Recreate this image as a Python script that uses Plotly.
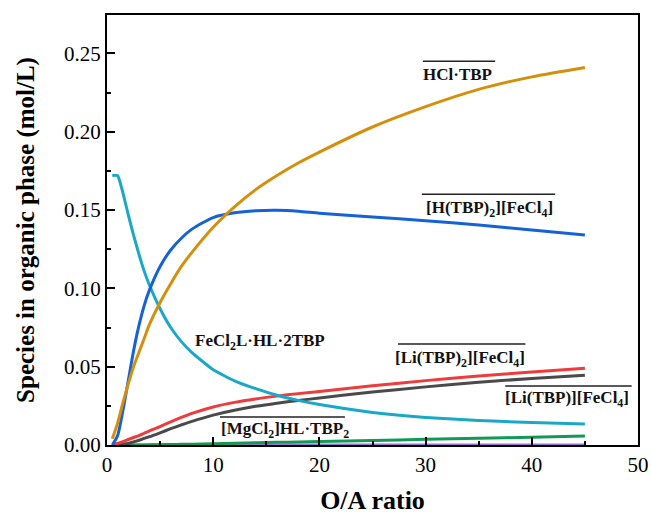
import plotly.graph_objects as go

# O/A ratio grid
oa = [0.5, 1, 1.5, 2, 2.5, 3, 3.5, 4, 5, 6, 7, 8, 10, 12, 14, 16, 18, 20, 25, 30, 35, 40, 45]

hcl_tbp = [0.004, 0.014, 0.027, 0.039, 0.050, 0.059, 0.068, 0.077, 0.091, 0.103, 0.114, 0.123,
           0.139, 0.152, 0.163, 0.172, 0.180, 0.187, 0.203, 0.216, 0.227, 0.235, 0.241]
h_tbp2_fecl4 = [0.0, 0.006, 0.022, 0.041, 0.060, 0.076, 0.089, 0.099, 0.114, 0.1245, 0.132, 0.1378,
                0.1452, 0.1482, 0.1495, 0.1498, 0.1492, 0.1480, 0.1456, 0.1432, 0.1405, 0.1372, 0.134]
fecl2l_hl_2tbp = [0.172, 0.172, 0.161, 0.147, 0.134, 0.122, 0.111, 0.102, 0.087, 0.075, 0.066, 0.059,
                  0.048, 0.041, 0.036, 0.0318, 0.0285, 0.0258, 0.0208, 0.0176, 0.0156, 0.0143, 0.0134]
li_tbp2_fecl4 = [0.0, 0.001, 0.0022, 0.0035, 0.0048, 0.006, 0.0075, 0.009, 0.0118, 0.0148, 0.0176, 0.0202,
                 0.0243, 0.0272, 0.0294, 0.0312, 0.0328, 0.0342, 0.0378, 0.0411, 0.044, 0.0466, 0.049]
li_tbp_fecl4 = [0.0, 0.0002, 0.0005, 0.001, 0.002, 0.003, 0.0042, 0.0053, 0.0078, 0.0104, 0.0128, 0.0151,
                0.0191, 0.0222, 0.0247, 0.0267, 0.0284, 0.030, 0.0338, 0.0371, 0.040, 0.0425, 0.0446]
mgcl2_hl_tbp2 = [0.0, 0.0, 0.0, 0.0, 0.0, 0.0, 0.0, 0.0001, 0.0002, 0.0003, 0.0004, 0.0005,
                 0.0008, 0.0011, 0.0014, 0.0017, 0.0019, 0.0022, 0.0029, 0.0036, 0.0043, 0.005, 0.0057]
other_species = [0.0] * len(oa)

series = [
    ("HCl·TBP", hcl_tbp, "#D4900C", 0.7),
    ("[H(TBP)2][FeCl4]", h_tbp2_fecl4, "#1562D6", 0.7),
    ("FeCl2L·HL·2TBP", fecl2l_hl_2tbp, "#1BA8C6", 0.4),
    ("[Li(TBP)2][FeCl4]", li_tbp2_fecl4, "#EE3B3B", 0.7),
    ("[Li(TBP)][FeCl4]", li_tbp_fecl4, "#4A4A4A", 0.7),
    ("[MgCl2]HL·TBP2", mgcl2_hl_tbp2, "#109A55", 0.7),
    ("other", other_species, "#A070D0", 0.7),
]

fig = go.Figure()
for name, ys, col, sm in series[::-1]:
    fig.add_trace(go.Scatter(x=oa, y=ys, mode="lines", name=name,
                             line=dict(color=col, width=3, shape="spline", smoothing=sm)))

# labels: (text, x, y, overline x0, x1, y)
labels = [
    ("HCl·TBP", 33.05, 0.2368, (29.75, 36.55, 0.245)),
    ("[H(TBP)<sub>2</sub>][FeCl<sub>4</sub>]", 36.0, 0.1505, (29.65, 42.2, 0.160)),
    ("FeCl<sub>2</sub>L·HL·2TBP", 14.4, 0.0660, None),
    ("[Li(TBP)<sub>2</sub>][FeCl<sub>4</sub>]", 33.2, 0.0552, (27.4, 39.4, 0.0645)),
    ("[Li(TBP)][FeCl<sub>4</sub>]", 43.35, 0.0292, (37.5, 49.4, 0.0377)),
    ("[MgCl<sub>2</sub>]HL·TBP<sub>2</sub>", 16.8, 0.0095, (10.64, 22.4, 0.0179)),
]
for txt, lx, ly, ov in labels:
    fig.add_annotation(x=lx, y=ly, xref="x", yref="y", text=txt, showarrow=False,
                       xanchor="center", yanchor="middle",
                       font=dict(family="Liberation Serif", size=17, color="#111111", weight="bold"))
    if ov:
        fig.add_shape(type="line", xref="x", yref="y", x0=ov[0], x1=ov[1], y0=ov[2], y1=ov[2],
                      line=dict(color="#222222", width=1.5))

axis_common = dict(
    showline=True, linecolor="black", linewidth=2, mirror=True,
    ticks="inside", ticklen=8, tickwidth=1.5, tickcolor="black",
    showgrid=False, zeroline=False, automargin=False,
    tickfont=dict(family="Liberation Serif, Times New Roman, serif", size=21, color="black"),
)

fig.update_xaxes(range=[0, 50], dtick=10, tick0=0,
                 minor=dict(ticks="inside", ticklen=4, tickwidth=1.5, tickcolor="black", dtick=5),
                 title=dict(text="<b>O/A ratio</b>", font=dict(family="Liberation Serif", size=26, color="black"),
                            standoff=26),
                 **axis_common)
fig.update_yaxes(range=[0, 0.2745], dtick=0.05, tick0=0, tickformat=".2f",
                 minor=dict(ticks="inside", ticklen=4, tickwidth=1.5, tickcolor="black", dtick=0.025),
                 title=dict(text="<b>Species in organic phase (mol/L)</b>",
                            font=dict(family="Liberation Serif", size=25, color="black"), standoff=22),
                 **axis_common)

fig.update_layout(
    width=651, height=515,
    margin=dict(l=107, r=13, t=15, b=70),
    paper_bgcolor="white", plot_bgcolor="white",
    showlegend=False,
)

fig.write_html("out.html", config={"displayModeBar": False},
               post_script="document.body.style.margin='0px';")
